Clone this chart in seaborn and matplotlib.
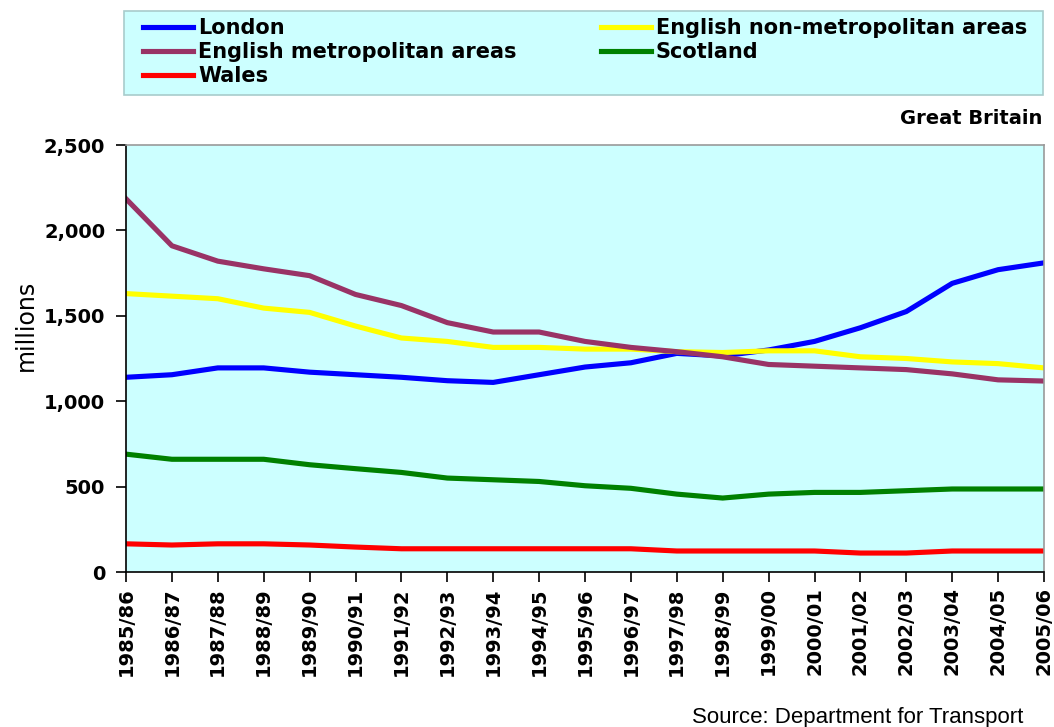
import pandas as pd
import matplotlib
matplotlib.use("Agg")
import matplotlib.pyplot as plt
import seaborn as sns
from matplotlib.patches import Rectangle
from matplotlib.ticker import FuncFormatter

# bus passenger journeys by area, millions
years = ['1985/86', '1986/87', '1987/88', '1988/89', '1989/90', '1990/91', '1991/92',
         '1992/93', '1993/94', '1994/95', '1995/96', '1996/97', '1997/98', '1998/99',
         '1999/00', '2000/01', '2001/02', '2002/03', '2003/04', '2004/05', '2005/06']
london = [1140, 1155, 1195, 1195, 1170, 1155, 1140, 1120, 1110, 1155, 1200,
          1225, 1280, 1265, 1300, 1350, 1430, 1525, 1690, 1770, 1810]
non_metro = [1630, 1615, 1600, 1545, 1520, 1440, 1370, 1350, 1315, 1315, 1305,
             1305, 1290, 1285, 1295, 1295, 1260, 1250, 1230, 1220, 1195]
metro = [2185, 1910, 1820, 1775, 1735, 1625, 1560, 1460, 1405, 1405, 1350,
         1315, 1290, 1260, 1215, 1205, 1195, 1185, 1160, 1125, 1118]
scotland = [690, 660, 660, 660, 628, 605, 583, 550, 540, 530, 505,
            490, 456, 433, 456, 466, 466, 476, 486, 486, 486]
wales = [165, 158, 165, 165, 158, 146, 136, 136, 136, 136, 136,
         136, 123, 123, 123, 123, 111, 111, 123, 123, 123]

areas = ['London', 'English non-metropolitan areas', 'English metropolitan areas',
         'Scotland', 'Wales']
colours = {'London': '#0000FF', 'English non-metropolitan areas': '#FFFF00',
           'English metropolitan areas': '#993366', 'Scotland': '#008000',
           'Wales': '#FF0000'}

df = pd.DataFrame({'year': years, 'London': london,
                   'English non-metropolitan areas': non_metro,
                   'English metropolitan areas': metro,
                   'Scotland': scotland, 'Wales': wales})
long = df.melt(id_vars='year', var_name='area', value_name='journeys')

bg = '#CCFFFF'
W, H = 1054, 727
fig = plt.figure(figsize=(10.54, 7.27), dpi=100)
ax = fig.add_axes([126 / W, 1 - 572 / H, 918 / W, 427 / H])
ax.set_facecolor(bg)

sns.lineplot(data=long, x='year', y='journeys', hue='area', hue_order=areas,
             palette=colours, linewidth=3.7, sort=False, ax=ax)

ax.set_xlim(0, len(years) - 1)
ax.set_ylim(0, 2500)
ax.set_yticks([0, 500, 1000, 1500, 2000, 2500])
ax.yaxis.set_major_formatter(FuncFormatter(lambda v, p: f'{v:,.0f}'))
ax.set_xlabel('')
ax.set_ylabel('')
ax.tick_params(axis='x', direction='out', length=7, width=1.2, pad=4,
               labelsize=14, labelrotation=90)
ax.tick_params(axis='y', direction='out', length=7, width=1.2, pad=8,
               labelsize=14)
for lab in ax.get_xticklabels() + ax.get_yticklabels():
    lab.set_fontweight('bold')
for s in ['left', 'bottom']:
    ax.spines[s].set_color('black')
    ax.spines[s].set_linewidth(1.2)
for s in ['top', 'right']:
    ax.spines[s].set_color('#999999')
    ax.spines[s].set_linewidth(1.2)

# legend box drawn as a figure patch, legend itself frameless inside it
fig.patches.append(Rectangle((124 / W, 1 - 95 / H), 919 / W, 84 / H,
                             transform=fig.transFigure, facecolor=bg,
                             edgecolor='#A8CCCC', linewidth=1.2, zorder=0))
handles, labels = ax.get_legend_handles_labels()
ax.get_legend().remove()
order = ['London', 'English metropolitan areas', 'Wales',
         'English non-metropolitan areas', 'Scotland']
h = [handles[labels.index(o)] for o in order]
fig.legend(h, order, loc='upper left', ncol=2, mode='expand',
           bbox_to_anchor=(143 / W, 1 - 85 / H, 884 / W, 67 / H),
           prop={'weight': 'bold', 'size': 15}, handlelength=2.4,
           handletextpad=0.25, labelspacing=0.2, borderpad=0,
           borderaxespad=0, frameon=False)

fig.text(1042 / W, 1 - 118 / H, 'Great Britain', ha='right', va='center',
         fontsize=14, fontweight='bold')
fig.text(26 / W, 1 - 325 / H, 'millions', rotation=90, ha='center',
         va='center', fontsize=17)
fig.text(1023 / W, 1 - 717 / H, 'Source: Department for Transport',
         ha='right', va='center', fontsize=16, family='Liberation Sans')

fig.savefig('out.png', dpi=100)
